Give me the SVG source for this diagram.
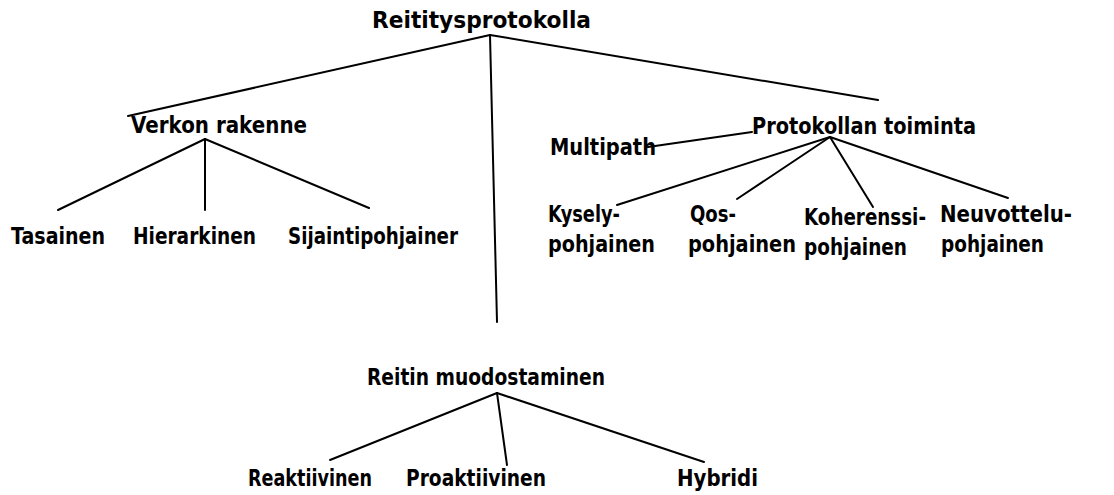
<svg xmlns="http://www.w3.org/2000/svg" width="1114" height="495" viewBox="0 0 1114 495">
<style>
text{font-family:"DejaVu Sans","Liberation Sans",sans-serif;font-weight:bold;font-size:23px;fill:#000}
.c line{stroke:#000;stroke-width:2;stroke-linecap:round}
</style>
<rect width="1114" height="495" fill="#fff"/>
<g class="c" id="connectors">
<line x1="490" y1="35" x2="128" y2="116"/>
<line x1="490" y1="35" x2="497" y2="322"/>
<line x1="490" y1="35" x2="878" y2="100"/>
<line x1="205" y1="139" x2="58" y2="210"/>
<line x1="205" y1="139" x2="205" y2="210"/>
<line x1="205" y1="139" x2="369" y2="208"/>
<line x1="830" y1="137" x2="617" y2="205"/>
<line x1="830" y1="137" x2="737" y2="199"/>
<line x1="830" y1="137" x2="873" y2="207"/>
<line x1="830" y1="137" x2="1008" y2="198"/>
<line x1="648" y1="147" x2="752" y2="132"/>
<line x1="497" y1="393" x2="330" y2="460"/>
<line x1="497" y1="393" x2="507" y2="465"/>
<line x1="497" y1="393" x2="704" y2="462"/>
</g>
<g id="root"><text x="372" y="28" textLength="219" lengthAdjust="spacingAndGlyphs">Reititysprotokolla</text></g>
<g id="verkon"><text x="131" y="133" textLength="176" lengthAdjust="spacingAndGlyphs">Verkon rakenne</text></g>
<g id="tasainen"><text x="11" y="244" textLength="94" lengthAdjust="spacingAndGlyphs">Tasainen</text></g>
<g id="hierarkinen"><text x="133" y="244" textLength="123" lengthAdjust="spacingAndGlyphs">Hierarkinen</text></g>
<g id="sijainti"><text x="288" y="244" textLength="170" lengthAdjust="spacingAndGlyphs">Sijaintipohjainer</text></g>
<g id="protokollan"><text x="752" y="134" textLength="224" lengthAdjust="spacingAndGlyphs">Protokollan toiminta</text></g>
<g id="multipath"><text x="550" y="155" textLength="106" lengthAdjust="spacingAndGlyphs">Multipath</text></g>
<g id="kysely"><text x="548" y="222" textLength="72" lengthAdjust="spacingAndGlyphs">Kysely-</text><text x="548" y="252" textLength="107" lengthAdjust="spacingAndGlyphs">pohjainen</text></g>
<g id="qos"><text x="690" y="222" textLength="46" lengthAdjust="spacingAndGlyphs">Qos-</text><text x="688" y="252" textLength="108" lengthAdjust="spacingAndGlyphs">pohjainen</text></g>
<g id="koherenssi"><text x="804" y="225" textLength="122" lengthAdjust="spacingAndGlyphs">Koherenssi-</text><text x="804" y="255" textLength="103" lengthAdjust="spacingAndGlyphs">pohjainen</text></g>
<g id="neuvottelu"><text x="940" y="222" textLength="132" lengthAdjust="spacingAndGlyphs">Neuvottelu-</text><text x="941" y="252" textLength="103" lengthAdjust="spacingAndGlyphs">pohjainen</text></g>
<g id="reitin"><text x="367" y="385" textLength="238" lengthAdjust="spacingAndGlyphs">Reitin muodostaminen</text></g>
<g id="reaktiivinen"><text x="248" y="486" textLength="124" lengthAdjust="spacingAndGlyphs">Reaktiivinen</text></g>
<g id="proaktiivinen"><text x="406" y="486" textLength="140" lengthAdjust="spacingAndGlyphs">Proaktiivinen</text></g>
<g id="hybridi"><text x="677" y="486" textLength="81" lengthAdjust="spacingAndGlyphs">Hybridi</text></g>
</svg>
